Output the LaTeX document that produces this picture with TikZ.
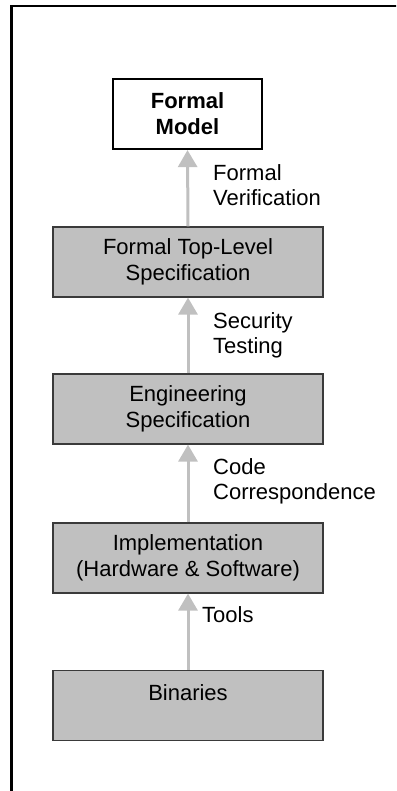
\documentclass[tikz,border=0pt]{standalone}
\usepackage{fontspec}
\setmainfont{Liberation Sans}
\usetikzlibrary{arrows.meta}
\definecolor{boxgray}{HTML}{C0C0C0}
\definecolor{boxline}{HTML}{3A3A3A}
\definecolor{arrowgray}{HTML}{C0C0C0}
\begin{document}
\begin{tikzpicture}[x=1pt,y=-1pt,
  every node/.style={font=\fontsize{22}{25.5}\selectfont},
  graybox/.style={draw=boxline,line width=1.2pt,fill=boxgray,minimum width=270pt,minimum height=70pt,align=center,inner sep=0pt},
  topbox/.style={draw=black,line width=2.2pt,fill=white,minimum width=149pt,minimum height=70pt,align=center,inner sep=0pt,font=\fontsize{22}{26}\selectfont\bfseries},
  flow/.style={draw=arrowgray,line width=3pt,-{Triangle[width=19pt,length=17pt]}},
  lbl/.style={anchor=north west,inner sep=0pt,align=left}
]
\useasboundingbox (0,0) rectangle (396,791);
\clip (0,0) rectangle (396,791);
\draw[line width=2.5pt] (11.3,800) -- (11.3,6) -- (400,6);

\node[topbox] (fm) at (187.5,114) {Formal\\Model};
\node[graybox] (ftls) at (188,262) {Formal Top-Level\\Specification};
\node[graybox] (eng) at (188,409) {Engineering\\Specification};
\node[graybox] (impl) at (188,558) {Implementation\\(Hardware \& Software)};
\node[graybox] (bin) at (188,705.5) {Binaries\\\mbox{}};

\draw[flow] (ftls.north) -- (fm.south);
\draw[flow] (eng.north) -- (ftls.south);
\draw[flow] (impl.north) -- (eng.south);
\draw[flow] (bin.north) -- (impl.south);

\node[lbl] (l1) at (213,164) {Formal\\Verification};
\node[lbl] (l2) at (213,312) {Security\\Testing};
\node[lbl] (l3) at (213,458) {Code\\Correspondence};
\node[lbl] (l4) at (202,606) {Tools};
\end{tikzpicture}
\end{document}
